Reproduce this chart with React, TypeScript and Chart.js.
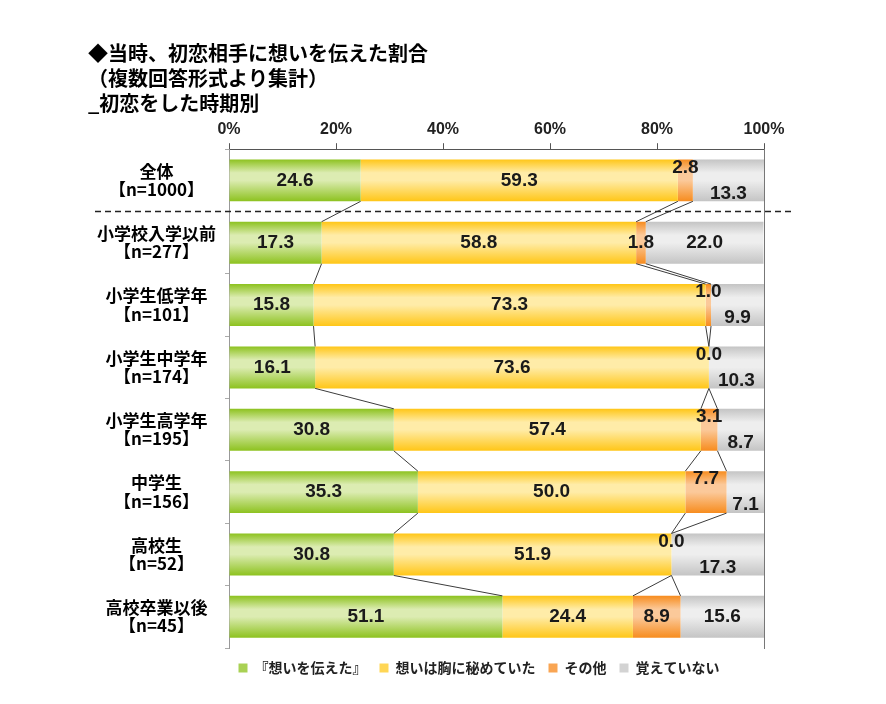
import React, { useEffect, useRef } from 'react';
import { Chart, registerables } from 'chart.js';

Chart.register(...registerables);

const JP = "'Noto Sans CJK JP', 'Noto Sans', sans-serif";
const NUM = "'Liberation Sans', Arial, sans-serif";

const titleLines = ['◆当時、初恋相手に想いを伝えた割合', '（複数回答形式より集計）', '_初恋をした時期別'];

const categories = [
  ['全体', '【n=1000】'],
  ['小学校入学以前', '【n=277】'],
  ['小学生低学年', '【n=101】'],
  ['小学生中学年', '【n=174】'],
  ['小学生高学年', '【n=195】'],
  ['中学生', '【n=156】'],
  ['高校生', '【n=52】'],
  ['高校卒業以後', '【n=45】'],
];

const seriesNames = ['『想いを伝えた』', '想いは胸に秘めていた', 'その他', '覚えていない'];

const told = [24.6, 17.3, 15.8, 16.1, 30.8, 35.3, 30.8, 51.1];
const keptInHeart = [59.3, 58.8, 73.3, 73.6, 57.4, 50.0, 51.9, 24.4];
const other = [2.8, 1.8, 1.0, 0.0, 3.1, 7.7, 0.0, 8.9];
const notRemember = [13.3, 22.0, 9.9, 10.3, 8.7, 7.1, 17.3, 15.6];

const xTickStep = 20;
const xMax = 100;

const palette = [
  { dark: '#8dc21f', light: '#dcecb2', mid: '#a9d154' },
  { dark: '#ffc617', light: '#ffeca8', mid: '#ffd655' },
  { dark: '#f78c1e', light: '#fbc99a', mid: '#f9a553' },
  { dark: '#c4c4c4', light: '#eeeeee', mid: '#d3d3d3' },
];

const BAR_PCT = 0.673;

function makeFill(k: number) {
  return (c: any) => {
    const chart = c.chart;
    const pal = palette[k];
    const ys = chart.scales && chart.scales.y;
    if (!ys || c.dataIndex === undefined || !chart.chartArea) return pal.mid;
    const center = ys.getPixelForValue(c.dataIndex);
    const step = Math.abs(ys.getPixelForValue(1) - ys.getPixelForValue(0));
    const half = (step * BAR_PCT) / 2;
    if (!isFinite(center) || !isFinite(half) || half <= 0) return pal.mid;
    const g = chart.ctx.createLinearGradient(0, center - half, 0, center + half);
    g.addColorStop(0, pal.dark);
    g.addColorStop(0.32, pal.light);
    g.addColorStop(0.5, pal.light);
    g.addColorStop(1, pal.dark);
    return g;
  };
}

const overlayPlugin = {
  id: 'overlay',
  afterDatasetsDraw(chart: any) {
    const ctx = chart.ctx;
    const metas = [0, 1, 2, 3].map((i) => chart.getDatasetMeta(i));
    const n = categories.length;
    const allData = [told, keptInHeart, other, notRemember];
    ctx.save();
    // series lines
    ctx.strokeStyle = '#3c3c3c';
    ctx.lineWidth = 1;
    for (let k = 0; k < 3; k++) {
      for (let i = 0; i < n - 1; i++) {
        const a = metas[k].data[i];
        const b = metas[k].data[i + 1];
        ctx.beginPath();
        ctx.moveTo(a.x, a.y + a.height / 2);
        ctx.lineTo(b.x, b.y - b.height / 2);
        ctx.stroke();
      }
    }
    // value labels
    ctx.font = `bold 19px ${NUM}`;
    ctx.fillStyle = '#1a1a1a';
    ctx.textAlign = 'center';
    ctx.textBaseline = 'middle';
    for (let i = 0; i < n; i++) {
      const pos: { x: number; y: number; t: string; w: number }[] = [];
      for (let k = 0; k < 4; k++) {
        const el = metas[k].data[i];
        const t = allData[k][i].toFixed(1);
        pos.push({ x: (el.x + el.base) / 2, y: el.y, t, w: ctx.measureText(t).width });
      }
      const o = pos[2];
      const g = pos[3];
      const gap = g.x - g.w / 2 - (o.x + o.w / 2);
      if (gap < 20) {
        const el = metas[2].data[i];
        const shift = el.height / 2 - 8;
        o.y -= shift;
        g.y += shift;
      }
      pos.forEach((p) => ctx.fillText(p.t, p.x, p.y));
    }
    // dashed separator after the first row
    const ys = chart.scales.y;
    const yb = (ys.getPixelForValue(0) + ys.getPixelForValue(1)) / 2;
    ctx.strokeStyle = '#222';
    ctx.lineWidth = 1.5;
    ctx.setLineDash([6, 4]);
    ctx.beginPath();
    ctx.moveTo(chart.chartArea.left - 134, yb);
    ctx.lineTo(chart.chartArea.right + 31, yb);
    ctx.stroke();
    ctx.restore();
  },
};

export default function App() {
  const ref = useRef<HTMLCanvasElement>(null);
  useEffect(() => {
    const datasets = [told, keptInHeart, other, notRemember].map((d, k) => ({
      label: seriesNames[k],
      data: d,
      backgroundColor: makeFill(k),
      borderWidth: 0,
      barPercentage: BAR_PCT,
      categoryPercentage: 1,
    }));
    const chart = new Chart(ref.current as HTMLCanvasElement, {
      type: 'bar',
      data: { labels: categories as any, datasets },
      options: {
        indexAxis: 'y',
        responsive: false,
        animation: false,
        layout: { padding: { left: 88, right: 16, top: 0, bottom: 19 } },
        scales: {
          x: {
            type: 'linear',
            position: 'top',
            stacked: true,
            min: 0,
            max: xMax,
            ticks: {
              stepSize: xTickStep,
              callback: (v: any) => v + '%',
              padding: 4,
              maxRotation: 0,
              color: '#222',
              font: { family: NUM, size: 16, weight: 'bold' },
            },
            grid: { drawOnChartArea: false, tickLength: 6, color: '#555' },
            border: { color: '#555', width: 1 },
          },
          y: {
            type: 'category',
            position: 'left',
            stacked: true,
            grid: { display: true, drawOnChartArea: false, tickLength: 4, color: '#aaa', offset: true },
            border: { display: true, color: '#999' },
            ticks: {
              crossAlign: 'center',
              padding: 9,
              color: '#000',
              font: { family: JP, size: 17, weight: 'bold', lineHeight: 1.08 },
            },
            afterFit: (s: any) => {
              s.width = 141;
            },
          },
          yR: {
            type: 'category',
            position: 'right',
            display: true,
            grid: { display: false },
            ticks: { display: false },
            border: { display: true, color: '#777' },
            afterFit: (s: any) => {
              s.width = 106;
            },
          },
        } as any,
        plugins: {
          title: {
            display: true,
            text: titleLines,
            align: 'start',
            color: '#000',
            font: { family: JP, size: 20, weight: 'bold', lineHeight: 1.25 },
            padding: { top: 41, bottom: 0 },
          },
          legend: {
            position: 'bottom',
            labels: {
              boxWidth: 9,
              boxHeight: 9,
              padding: 13,
              color: '#222',
              font: { family: JP, size: 14, weight: 'bold' },
              generateLabels: (c: any) =>
                c.data.datasets.map((ds: any, i: number) => ({
                  text: ds.label,
                  fillStyle: palette[i].mid,
                  strokeStyle: palette[i].mid,
                  lineWidth: 0,
                  hidden: false,
                  datasetIndex: i,
                  fontColor: '#222',
                })),
            },
          },
          tooltip: { enabled: false },
        },
      } as any,
      plugins: [overlayPlugin],
    });
    return () => chart.destroy();
  }, []);
  return (
    <div style={{ position: 'fixed', left: 0, top: 0, width: 886, height: 704, background: '#fff' }}>
      <canvas ref={ref} width={886} height={704} style={{ display: 'block' }} />
    </div>
  );
}
